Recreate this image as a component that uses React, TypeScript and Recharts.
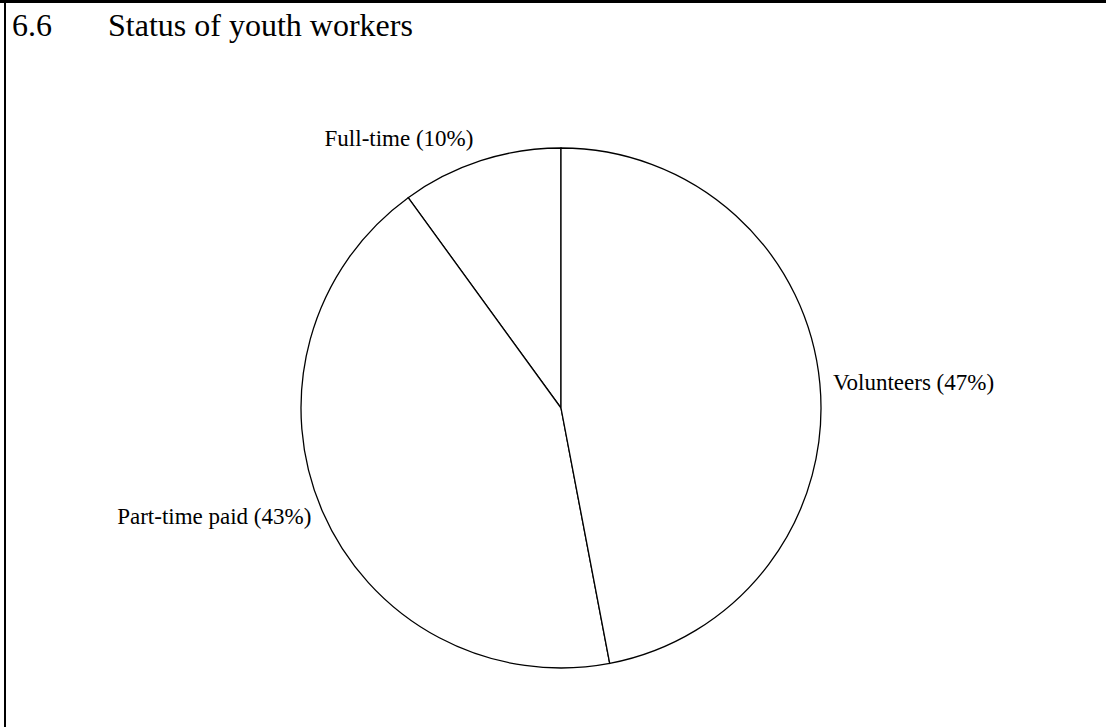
import { Pie, PieChart } from 'recharts'

const categories = ['Full-time', 'Part-time paid', 'Volunteers']
const shares = [10, 43, 47]

const data = categories.map((name, i) => ({ name, value: shares[i] }))

const RADIAN = Math.PI / 180

const renderLabel = (props: any) => {
  const { cx, cy, midAngle, outerRadius, name, value } = props
  const sin = Math.sin(midAngle * RADIAN)
  // labels above the pie sit a little further out
  const r = outerRadius + 12 + 12 * Math.max(0, sin)
  const x = cx + r * Math.cos(-midAngle * RADIAN)
  const y = cy + r * Math.sin(-midAngle * RADIAN)
  return (
    <text
      x={x}
      y={y}
      textAnchor={x > cx ? 'start' : 'end'}
      dominantBaseline="central"
      fill="#000"
      fontFamily="'Liberation Serif', 'Times New Roman', serif"
      fontSize={23}
    >
      {`${name} (${value}%)`}
    </text>
  )
}

export default function App() {
  return (
    <div
      style={{
        position: 'fixed',
        left: 0,
        top: 0,
        width: 1106,
        height: 727,
        background: '#fff',
        overflow: 'hidden',
      }}
    >
      <div style={{ position: 'absolute', left: 4, top: 0, width: 2, height: 727, background: '#000' }} />
      <div style={{ position: 'absolute', left: 0, top: 0, width: 1106, height: 3, background: '#000' }} />
      <div
        style={{
          position: 'absolute',
          left: 12,
          top: 5,
          fontFamily: "'Liberation Serif', 'Times New Roman', serif",
          fontSize: 32,
          color: '#000',
          whiteSpace: 'nowrap',
          lineHeight: '40px',
        }}
      >
        <span style={{ display: 'inline-block', width: 96 }}>6.6</span>
        <span>Status of youth workers</span>
      </div>
      <PieChart width={1106} height={727} style={{ position: 'absolute', left: 0, top: 0 }}>
        <Pie
          data={data}
          dataKey="value"
          nameKey="name"
          cx={556}
          cy={403}
          outerRadius={260}
          startAngle={90}
          endAngle={450}
          fill="#fff"
          stroke="#000"
          strokeWidth={1.3}
          label={renderLabel}
          labelLine={false}
          isAnimationActive={false}
        />
      </PieChart>
    </div>
  )
}
